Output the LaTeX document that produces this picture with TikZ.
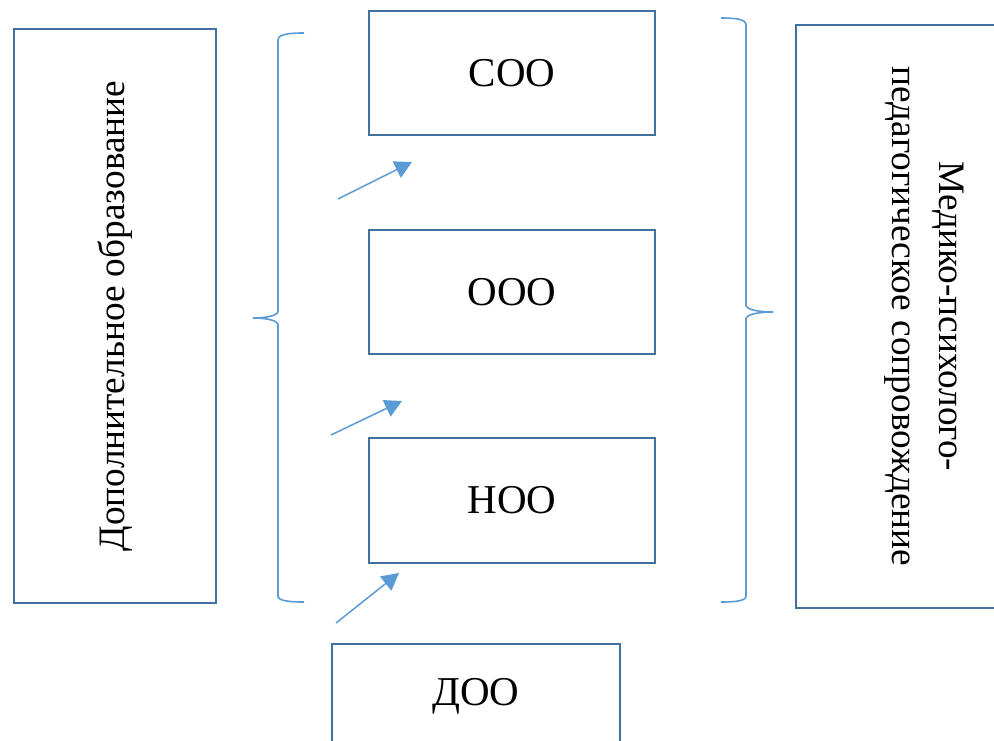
\documentclass[tikz,border=0pt]{standalone}
\usepackage{fontspec}
\setmainfont{Liberation Serif}
\newfontfamily\diagfont{Liberation Serif}
\usetikzlibrary{arrows.meta}
\definecolor{boxline}{HTML}{41719C}
\definecolor{accent}{HTML}{5B9BD5}
\begin{document}
\begin{tikzpicture}[x=1pt,y=1pt,
  box/.style={draw=boxline,line width=2.6pt,fill=white,inner sep=0pt,font=\diagfont\fontsize{41}{46}\selectfont},
  longtext/.style={font=\diagfont\fontsize{37.3}{47}\selectfont},
  brace/.style={draw=accent,line width=1.6pt},
  arr/.style={draw=accent,line width=1.5pt,-{Triangle[length=17pt,width=18pt]}}]
\useasboundingbox (0,0) rectangle (994,-741);
\node[box,longtext,rotate=90,minimum width=574,minimum height=202] (dop) at (115,-316) {Дополнительное образование};
\node[box,minimum width=286,minimum height=124] (soo) at (512,-73) {СОО};
\node[box,minimum width=286,minimum height=124] (ooo) at (512,-292) {ООО};
\node[box,minimum width=286,minimum height=125] (noo) at (512,-500.5) {НОО};
\node[box,minimum width=288,minimum height=104] (doo) at (476,-696) {ДОО};
\node[box,longtext,rotate=-90,minimum width=583,minimum height=256,align=center] (mpp) at (924,-316.5) {Медико-психолого-\\педагогическое сопровождение};
% left brace
\draw[brace] (304,-33) .. controls (290,-33) and (278,-34) .. (278,-40) -- (278,-311) .. controls (278,-316) and (265,-318) .. (253,-318) .. controls (265,-318) and (278,-320) .. (278,-325) -- (278,-596) .. controls (278,-601) and (290,-602) .. (304,-602);
% right brace
\draw[brace] (721,-18) .. controls (735,-18) and (746,-19) .. (746,-25) -- (746,-305) .. controls (746,-310) and (760,-312) .. (773,-312) .. controls (760,-312) and (746,-314) .. (746,-319) -- (746,-596) .. controls (746,-601) and (735,-602) .. (721,-602);
% arrows
\coordinate (a1s) at (338,-199); \coordinate (a1e) at (412,-162);
\coordinate (a2s) at (331,-435); \coordinate (a2e) at (402,-401);
\coordinate (a3s) at (336,-623); \coordinate (a3e) at (399,-573);
\draw[arr] (a1s) -- (a1e);
\draw[arr] (a2s) -- (a2e);
\draw[arr] (a3s) -- (a3e);
\end{tikzpicture}
\end{document}
